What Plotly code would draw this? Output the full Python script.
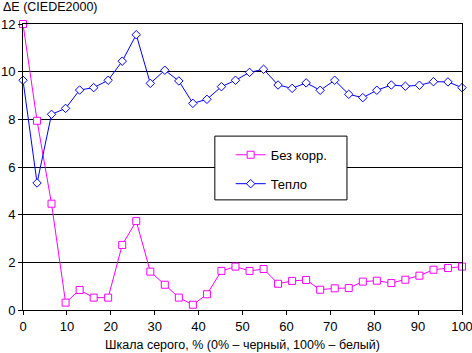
import plotly.graph_objects as go

gray_pct = [0, 3.2, 6.5, 9.7, 12.9, 16.1, 19.4, 22.6, 25.8, 29.0, 32.3, 35.5,
            38.7, 41.9, 45.2, 48.4, 51.6, 54.8, 58.1, 61.3, 64.5, 67.7, 71.0,
            74.2, 77.4, 80.6, 83.9, 87.1, 90.3, 93.5, 96.8, 100]

bez_korr = [12.0, 7.94, 4.46, 0.31, 0.84, 0.52, 0.52, 2.73, 3.73, 1.61, 1.06,
            0.52, 0.22, 0.66, 1.64, 1.82, 1.64, 1.72, 1.10, 1.22, 1.26, 0.85,
            0.91, 0.92, 1.19, 1.23, 1.13, 1.27, 1.44, 1.69, 1.76, 1.82]

teplo = [9.64, 5.33, 8.21, 8.46, 9.23, 9.33, 9.64, 10.44, 11.55, 9.51, 10.06,
         9.61, 8.67, 8.84, 9.37, 9.64, 9.97, 10.10, 9.44, 9.30, 9.53, 9.22,
         9.64, 9.05, 8.91, 9.22, 9.44, 9.39, 9.43, 9.58, 9.57, 9.33]

x_ticks = [0, 10, 20, 30, 40, 50, 60, 70, 80, 90, 100]
y_ticks = [0, 2, 4, 6, 8, 10, 12]

FONT = "Liberation Sans, Arial, sans-serif"

fig = go.Figure()
fig.add_trace(go.Scatter(
    x=gray_pct, y=bez_korr, name="Без корр.", mode="lines+markers",
    line=dict(color="#FF00FF", width=1),
    marker=dict(symbol="square", size=7, color="white",
                line=dict(color="#FF00FF", width=1)),
    cliponaxis=False, legendgroup="a"))
fig.add_trace(go.Scatter(
    x=gray_pct, y=teplo, name="Тепло", mode="lines+markers",
    line=dict(color="#0000FF", width=1),
    marker=dict(symbol="diamond", size=6.5, color="white",
                line=dict(color="#0000FF", width=1)),
    cliponaxis=False, legendgroup="b"))

fig.update_layout(
    width=472, height=353,
    margin=dict(l=23, r=10, t=24, b=43, autoexpand=False),
    paper_bgcolor="white", plot_bgcolor="white",
    font=dict(family=FONT, size=12.5, color="black"),
    showlegend=True,
    legend=dict(x=0.473, y=0.595, xanchor="left", yanchor="top",
                bgcolor="rgba(0,0,0,0)", borderwidth=0,
                tracegroupgap=9, font=dict(size=13)),
    xaxis=dict(range=[0, 100], tickvals=x_ticks, showgrid=False,
               automargin=False, tickfont=dict(size=13),
               ticklabeloverflow="allow",
               showline=True, linecolor="black", linewidth=1, mirror=True,
               ticks="outside", ticklen=4, tickcolor="black", zeroline=False,
               title=dict(text="Шкала серого, % (0% – черный, 100% – белый)",
                          standoff=7, font=dict(size=12.5))),
    yaxis=dict(range=[0, 12], tickvals=y_ticks, showgrid=True,
               automargin=False, tickfont=dict(size=13),
               ticklabeloverflow="allow",
               gridcolor="black", gridwidth=1,
               showline=True, linecolor="black", linewidth=1, mirror=True,
               ticks="outside", ticklen=4, tickcolor="black", zeroline=False),
    shapes=[dict(type="rect", xref="paper", yref="paper",
                 x0=0.437, x1=0.738, y0=0.385, y1=0.608,
                 line=dict(color="black", width=1), fillcolor="white",
                 layer="above")],
    annotations=[dict(text="ΔE (CIEDE2000)", xref="paper", yref="paper",
                      x=-22/439, y=1 + 17/286, xanchor="left", yanchor="middle",
                      showarrow=False, font=dict(size=12.5))],
)

fig.write_html("out.html")
